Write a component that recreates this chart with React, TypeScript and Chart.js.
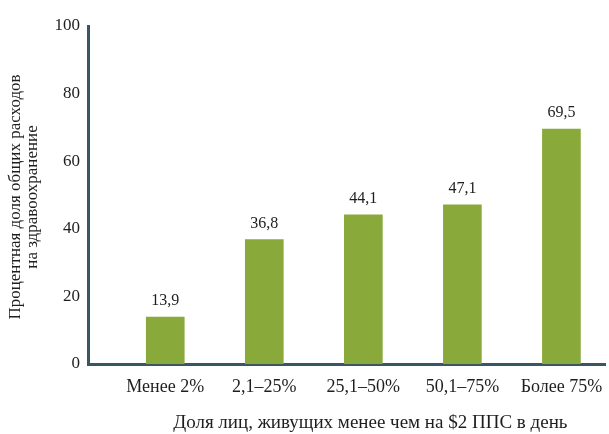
import React, { useEffect, useRef } from "react";
import { Chart, registerables } from "chart.js";

Chart.register(...registerables);

// Share of health spending by population group living under $2 PPP a day
const categories = ["Менее 2%", "2,1–25%", "25,1–50%", "50,1–75%", "Более 75%"];
const shares = [13.9, 36.8, 44.1, 47.1, 69.5];
const yTicks = [0, 20, 40, 60, 80, 100];
const xTitle = "Доля лиц, живущих менее чем на $2 ППС в день";
const yTitle = ["Процентная доля общих расходов", "на здравоохранение"];

const FONT = "'Liberation Serif', 'Times New Roman', serif";
const AXIS_COLOR = "#3b5663";
const BAR_COLOR = "#89a93a";
const TEXT_COLOR = "#1e1e1e";

const fmt = (v: number) => v.toFixed(1).replace(".", ",");

// Value boxes above the bars plus both axis titles
const annotate = {
  id: "annotate",
  afterDraw(chart: any) {
    const ctx = chart.ctx as CanvasRenderingContext2D;
    const meta = chart.getDatasetMeta(0);
    const xs = chart.scales.x;
    ctx.save();
    ctx.textAlign = "center";
    ctx.textBaseline = "middle";

    ctx.font = `16px ${FONT}`;
    meta.data.forEach((bar: any, i: number) => {
      const text = fmt(shares[i]);
      const w = ctx.measureText(text).width + 8;
      const cy = bar.y - 17;
      ctx.fillStyle = "#ffffff";
      ctx.fillRect(bar.x - w / 2, cy - 9.5, w, 19);
      ctx.fillStyle = TEXT_COLOR;
      ctx.fillText(text, bar.x, cy + 1);
    });

    ctx.font = `19px ${FONT}`;
    ctx.fillStyle = TEXT_COLOR;
    const mid = (xs.getPixelForValue(0) + xs.getPixelForValue(categories.length - 1)) / 2;
    ctx.fillText(xTitle, mid + 7, 423);

    ctx.font = `17px ${FONT}`;
    ctx.translate(24, 197);
    ctx.rotate(-Math.PI / 2);
    yTitle.forEach((line, k) => ctx.fillText(line, 0, (k - 0.5) * 17));
    ctx.restore();
  },
};

export default function App() {
  const canvasRef = useRef<HTMLCanvasElement | null>(null);

  useEffect(() => {
    document.body.style.margin = "0";
    const canvas = canvasRef.current;
    if (!canvas) return;
    const chart = new Chart(canvas, {
      type: "bar",
      data: {
        datasets: [
          {
            data: shares.map((v, i) => ({ x: i, y: v })),
            backgroundColor: BAR_COLOR,
            borderWidth: 0,
            barThickness: 38,
          },
        ],
      },
      options: {
        responsive: false,
        animation: false,
        layout: { padding: { top: 26, right: 4, left: 0, bottom: 0 } },
        plugins: { legend: { display: false }, tooltip: { enabled: false } },
        scales: {
          x: {
            type: "linear",
            offset: false,
            min: -0.78,
            max: 4.44,
            z: 1,
            grid: { display: false, drawTicks: false },
            border: { display: true, color: AXIS_COLOR, width: 3 },
            afterBuildTicks: (scale: any) => {
              scale.ticks = categories.map((_, i) => ({ value: i }));
            },
            afterFit: (scale: any) => {
              scale.height = 70;
              scale.paddingLeft = 0;
              scale.paddingRight = 0;
            },
            ticks: {
              autoSkip: false,
              maxRotation: 0,
              padding: 12,
              color: TEXT_COLOR,
              font: { family: FONT, size: 18 },
              callback: (v: any) => categories[Number(v)] ?? "",
            },
          },
          y: {
            min: 0,
            max: 100,
            z: 1,
            grid: { display: false, drawTicks: false },
            border: { display: true, color: AXIS_COLOR, width: 3 },
            afterBuildTicks: (scale: any) => {
              scale.ticks = yTicks.map((v) => ({ value: v }));
            },
            afterFit: (scale: any) => {
              scale.width = 88;
            },
            ticks: {
              padding: 8,
              color: TEXT_COLOR,
              font: { family: FONT, size: 17 },
            },
          },
        },
      },
      plugins: [annotate],
    });
    return () => chart.destroy();
  }, []);

  return (
    <div style={{ width: 609, height: 434, background: "#ffffff" }}>
      <canvas ref={canvasRef} width={609} height={434} />
    </div>
  );
}
